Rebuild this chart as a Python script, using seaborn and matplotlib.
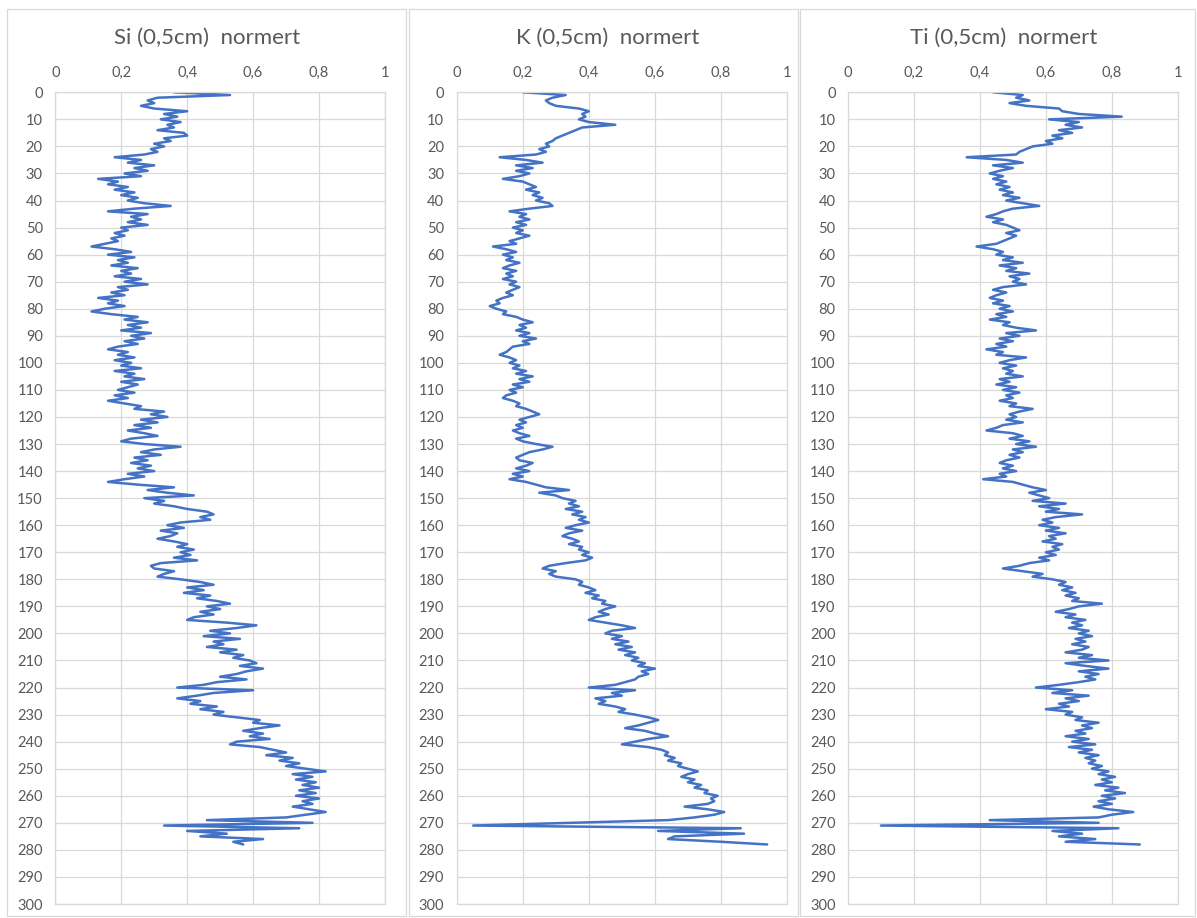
import numpy as np
import pandas as pd
import matplotlib
matplotlib.use("Agg")
import matplotlib.pyplot as plt
from matplotlib.patches import Rectangle
import seaborn as sns

# ---------------- data ----------------
depth = list(range(0, 279))  # cm

si = [0.36, 0.53, 0.31, 0.28, 0.30, 0.26, 0.30, 0.40, 0.33, 0.37,
      0.32, 0.38, 0.34, 0.36, 0.31, 0.39, 0.40, 0.33, 0.35, 0.30,
      0.33, 0.29, 0.31, 0.27, 0.18, 0.26, 0.22, 0.30, 0.24, 0.28,
      0.21, 0.26, 0.13, 0.19, 0.16, 0.22, 0.18, 0.24, 0.20, 0.25,
      0.22, 0.27, 0.35, 0.24, 0.16, 0.28, 0.23, 0.26, 0.22, 0.28,
      0.20, 0.22, 0.18, 0.21, 0.17, 0.19, 0.15, 0.11, 0.18, 0.23,
      0.16, 0.24, 0.19, 0.22, 0.17, 0.25, 0.20, 0.23, 0.18, 0.26,
      0.21, 0.28, 0.19, 0.22, 0.17, 0.21, 0.13, 0.19, 0.16, 0.21,
      0.15, 0.11, 0.17, 0.25, 0.21, 0.28, 0.22, 0.26, 0.20, 0.29,
      0.23, 0.27, 0.21, 0.25, 0.19, 0.16, 0.22, 0.19, 0.24, 0.18,
      0.23, 0.20, 0.26, 0.18, 0.24, 0.21, 0.27, 0.20, 0.25, 0.22,
      0.19, 0.24, 0.18, 0.22, 0.16, 0.21, 0.26, 0.24, 0.33, 0.29,
      0.34, 0.26, 0.31, 0.24, 0.29, 0.22, 0.27, 0.31, 0.23, 0.20,
      0.27, 0.38, 0.30, 0.26, 0.32, 0.24, 0.28, 0.23, 0.29, 0.25,
      0.30, 0.22, 0.27, 0.21, 0.16, 0.25, 0.36, 0.28, 0.34, 0.42,
      0.27, 0.33, 0.30, 0.36, 0.40, 0.46, 0.48, 0.44, 0.47, 0.38,
      0.34, 0.39, 0.32, 0.37, 0.35, 0.31, 0.36, 0.40, 0.37, 0.42,
      0.38, 0.41, 0.36, 0.43, 0.32, 0.29, 0.30, 0.36, 0.33, 0.31,
      0.38, 0.44, 0.48, 0.40, 0.45, 0.39, 0.47, 0.43, 0.49, 0.53,
      0.46, 0.50, 0.44, 0.48, 0.42, 0.40, 0.52, 0.61, 0.55, 0.47,
      0.53, 0.45, 0.56, 0.48, 0.51, 0.46, 0.55, 0.50, 0.57, 0.54,
      0.59, 0.61, 0.56, 0.63, 0.58, 0.55, 0.50, 0.58, 0.49, 0.45,
      0.37, 0.60, 0.48, 0.43, 0.37, 0.44, 0.41, 0.49, 0.44, 0.51,
      0.48, 0.55, 0.62, 0.60, 0.68, 0.62, 0.57, 0.63, 0.59, 0.65,
      0.55, 0.53, 0.62, 0.66, 0.70, 0.64, 0.72, 0.68, 0.74, 0.70,
      0.76, 0.82, 0.72, 0.78, 0.73, 0.79, 0.75, 0.80, 0.74, 0.79,
      0.73, 0.80, 0.75, 0.78, 0.72, 0.77, 0.82, 0.76, 0.70, 0.46,
      0.78, 0.33, 0.74, 0.40, 0.52, 0.44, 0.63, 0.54, 0.57]

k = [0.20, 0.33, 0.29, 0.27, 0.28, 0.30, 0.37, 0.40, 0.38, 0.39,
     0.37, 0.40, 0.48, 0.38, 0.36, 0.34, 0.32, 0.30, 0.29, 0.27,
     0.28, 0.25, 0.27, 0.24, 0.13, 0.21, 0.26, 0.18, 0.23, 0.18,
     0.22, 0.19, 0.14, 0.20, 0.22, 0.24, 0.21, 0.25, 0.23, 0.26,
     0.24, 0.28, 0.29, 0.22, 0.16, 0.21, 0.19, 0.22, 0.18, 0.21,
     0.17, 0.20, 0.18, 0.22, 0.19, 0.16, 0.18, 0.11, 0.15, 0.18,
     0.14, 0.17, 0.15, 0.19, 0.16, 0.14, 0.18, 0.15, 0.17, 0.14,
     0.18, 0.16, 0.19, 0.17, 0.15, 0.17, 0.14, 0.12, 0.13, 0.10,
     0.12, 0.15, 0.14, 0.18, 0.20, 0.23, 0.19, 0.21, 0.18, 0.22,
     0.19, 0.24, 0.20, 0.22, 0.17, 0.16, 0.15, 0.13, 0.16, 0.18,
     0.16, 0.19, 0.17, 0.21, 0.18, 0.23, 0.19, 0.22, 0.17, 0.20,
     0.16, 0.18, 0.15, 0.14, 0.17, 0.19, 0.18, 0.21, 0.23, 0.25,
     0.22, 0.19, 0.21, 0.18, 0.20, 0.17, 0.19, 0.22, 0.18, 0.20,
     0.24, 0.29, 0.26, 0.22, 0.20, 0.18, 0.19, 0.23, 0.21, 0.18,
     0.22, 0.17, 0.20, 0.16, 0.21, 0.24, 0.27, 0.34, 0.25, 0.30,
     0.32, 0.36, 0.34, 0.37, 0.33, 0.38, 0.35, 0.39, 0.37, 0.40,
     0.36, 0.33, 0.38, 0.34, 0.32, 0.35, 0.37, 0.34, 0.38, 0.37,
     0.40, 0.38, 0.41, 0.39, 0.33, 0.28, 0.26, 0.30, 0.28, 0.30,
     0.36, 0.38, 0.37, 0.40, 0.42, 0.39, 0.43, 0.41, 0.45, 0.44,
     0.48, 0.45, 0.43, 0.46, 0.42, 0.40, 0.45, 0.50, 0.54, 0.47,
     0.45, 0.50, 0.47, 0.52, 0.48, 0.53, 0.49, 0.54, 0.51, 0.55,
     0.53, 0.57, 0.55, 0.60, 0.56, 0.58, 0.55, 0.54, 0.51, 0.48,
     0.40, 0.54, 0.47, 0.50, 0.42, 0.45, 0.43, 0.48, 0.51, 0.49,
     0.54, 0.58, 0.61, 0.58, 0.55, 0.51, 0.57, 0.60, 0.64, 0.58,
     0.54, 0.50, 0.58, 0.62, 0.64, 0.63, 0.66, 0.64, 0.68, 0.67,
     0.70, 0.73, 0.70, 0.68, 0.72, 0.70, 0.74, 0.72, 0.76, 0.75,
     0.79, 0.77, 0.78, 0.76, 0.69, 0.76, 0.81, 0.78, 0.72, 0.64,
     0.35, 0.05, 0.86, 0.61, 0.87, 0.66, 0.64, 0.80, 0.94]

ti = [0.44, 0.53, 0.51, 0.55, 0.49, 0.54, 0.64, 0.65, 0.70, 0.83,
      0.61, 0.70, 0.66, 0.71, 0.64, 0.68, 0.62, 0.65, 0.60, 0.62,
      0.56, 0.54, 0.52, 0.51, 0.36, 0.48, 0.53, 0.44, 0.50, 0.46,
      0.43, 0.47, 0.44, 0.48, 0.45, 0.49, 0.46, 0.50, 0.47, 0.52,
      0.48, 0.53, 0.58, 0.50, 0.47, 0.45, 0.42, 0.47, 0.44, 0.48,
      0.50, 0.52, 0.48, 0.51, 0.49, 0.47, 0.45, 0.39, 0.44, 0.47,
      0.45, 0.50, 0.47, 0.53, 0.46, 0.51, 0.48, 0.55, 0.49, 0.52,
      0.50, 0.54, 0.47, 0.44, 0.48, 0.45, 0.43, 0.47, 0.44, 0.49,
      0.46, 0.50, 0.45, 0.48, 0.43, 0.49, 0.47, 0.51, 0.57, 0.48,
      0.52, 0.46, 0.50, 0.45, 0.48, 0.42, 0.47, 0.45, 0.54, 0.49,
      0.46, 0.51, 0.47, 0.50, 0.48, 0.53, 0.46, 0.49, 0.45, 0.51,
      0.47, 0.52, 0.48, 0.50, 0.46, 0.51, 0.49, 0.56, 0.52, 0.49,
      0.51, 0.48, 0.53, 0.47, 0.45, 0.42, 0.50, 0.53, 0.49, 0.55,
      0.51, 0.57, 0.50, 0.53, 0.49, 0.52, 0.48, 0.46, 0.50, 0.47,
      0.51, 0.46, 0.48, 0.41, 0.50, 0.53, 0.56, 0.60, 0.55, 0.58,
      0.61, 0.56, 0.66, 0.58, 0.64, 0.60, 0.71, 0.63, 0.59, 0.62,
      0.58, 0.64, 0.60, 0.66, 0.61, 0.63, 0.59, 0.65, 0.62, 0.64,
      0.60, 0.63, 0.58, 0.61, 0.55, 0.52, 0.47, 0.53, 0.59, 0.56,
      0.62, 0.66, 0.64, 0.68, 0.65, 0.69, 0.66, 0.70, 0.68, 0.77,
      0.70, 0.67, 0.63, 0.69, 0.66, 0.72, 0.68, 0.71, 0.67, 0.73,
      0.70, 0.74, 0.69, 0.72, 0.68, 0.73, 0.71, 0.66, 0.74, 0.70,
      0.79, 0.66, 0.72, 0.79, 0.70, 0.76, 0.72, 0.75, 0.70, 0.64,
      0.57, 0.68, 0.62, 0.73, 0.66, 0.70, 0.64, 0.67, 0.60, 0.68,
      0.66, 0.71, 0.69, 0.76, 0.71, 0.74, 0.69, 0.72, 0.66, 0.73,
      0.68, 0.75, 0.67, 0.74, 0.70, 0.76, 0.72, 0.75, 0.73, 0.77,
      0.74, 0.79, 0.76, 0.81, 0.77, 0.80, 0.75, 0.82, 0.78, 0.84,
      0.77, 0.81, 0.76, 0.80, 0.745, 0.79, 0.865, 0.80, 0.76, 0.43,
      0.76, 0.10, 0.82, 0.62, 0.71, 0.64, 0.75, 0.66, 0.885]

titles = ["Si (0,5cm)  normert", "K (0,5cm)  normert", "Ti (0,5cm)  normert"]
x_ticks = [0, 0.2, 0.4, 0.6, 0.8, 1.0]
x_tick_labels = ["0", "0,2", "0,4", "0,6", "0,8", "1"]
y_ticks = list(range(0, 301, 10))

# ---------------- style ----------------
sns.set_theme(style="white")
plt.rcParams["font.family"] = ["Lato", "DejaVu Sans"]

LINE = "#4472C4"
GRID = "#D9D9D9"
TEXT = "#595959"

W, H = 1197, 918
fig = plt.figure(figsize=(W / 100, H / 100), dpi=100)
fig.patch.set_facecolor("white")

# chart-area borders (px)
chart_boxes = [(7, 9, 406, 916), (409, 9, 798, 916), (800, 9, 1195, 916)]
for (x0, y0, x1, y1) in chart_boxes:
    fig.patches.append(Rectangle((x0 / W, 1 - y1 / H), (x1 - x0) / W, (y1 - y0) / H,
                                 transform=fig.transFigure, fill=False,
                                 edgecolor=GRID, linewidth=0.9, zorder=0))

# plot areas (px): left, right
plot_x = [(55.3, 385.0), (456.7, 787.0), (848.0, 1177.7)]
plot_top, plot_bot = 92.3, 904.0
title_cx = [207, 608, 1004]

series = [si, k, ti]
for i, vals in enumerate(series):
    l, r = plot_x[i]
    ax = fig.add_axes([l / W, 1 - plot_bot / H, (r - l) / W, (plot_bot - plot_top) / H])
    df = pd.DataFrame({"depth": depth, "value": vals})
    sns.lineplot(data=df, x="value", y="depth", sort=False, estimator=None,
                 color=LINE, linewidth=1.8, ax=ax)
    ax.set_xlim(0, 1)
    ax.set_ylim(300, 0)
    ax.xaxis.tick_top()
    ax.set_xticks(x_ticks)
    ax.set_xticklabels(x_tick_labels)
    ax.set_yticks(y_ticks)
    ax.set_yticklabels([str(t) for t in y_ticks])
    ax.tick_params(axis="both", length=0, labelsize=10.5, labelcolor=TEXT)
    ax.tick_params(axis="x", pad=9)
    ax.tick_params(axis="y", pad=9)
    ax.set_xlabel("")
    ax.set_ylabel("")
    ax.grid(True, color=GRID, linewidth=0.9)
    ax.set_axisbelow(True)
    for s in ax.spines.values():
        s.set_color(GRID)
        s.set_linewidth(0.9)
    fig.text(title_cx[i] / W, 1 - 38 / H, titles[i], ha="center", va="center",
             fontsize=16, color=TEXT)

fig.savefig("out.png", dpi=100, facecolor="white")
